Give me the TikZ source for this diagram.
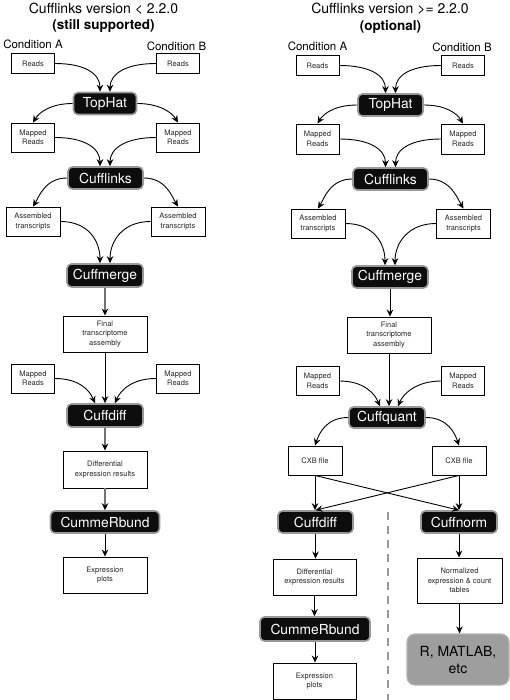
\documentclass[tikz,border=0pt]{standalone}
\usepackage{fontspec}
\setmainfont{TeX Gyre Heros}
\usetikzlibrary{arrows.meta,calc}
\begin{document}
\begin{tikzpicture}[x=1pt,y=-1pt,
  sz/.style 2 args={minimum width=#1pt, minimum height=#2pt},
  wbox/.style={draw=black, line width=0.9pt, fill=white, inner sep=0pt, align=center,
    font=\fontsize{7.5}{9.5}\selectfont, text=black!85},
  bbox/.style={draw=black!40, line width=1.6pt, fill=black!95, rounded corners=4.5pt,
    inner sep=0pt, text=white, font=\fontsize{13.8}{16}\selectfont},
  gbox/.style={draw=black!30, line width=1.2pt, fill=black!38, rounded corners=8pt,
    inner sep=0pt, align=center, text=black, font=\fontsize{14}{17}\selectfont},
  arr/.style={line width=0.9pt, -{Stealth[length=7pt,width=6.5pt]}},
  garr/.style={line width=1.1pt, draw=black!55, -{Stealth[length=7pt,width=6.5pt,color=black]}},
  cond/.style={font=\fontsize{11.5}{13}\selectfont},
  ttl/.style={font=\fontsize{14}{16}\selectfont},
  ttlb/.style={font=\fontsize{13.5}{16}\selectfont\bfseries},
  sep/.style={draw=black!40, line width=1.3pt, dash pattern=on 8pt off 6pt},
]
\useasboundingbox (0,0) rectangle (510,700);

% ---------------- titles ----------------
\node[ttl]  (tl1) at (103.5,9)  {Cufflinks version < 2.2.0};
\node[ttlb] (tl2) at (103.5,26) {(still supported)};
\node[ttl]  (tr1) at (390,9)    {Cufflinks version >= 2.2.0};
\node[ttlb] (tr2) at (390.5,27) {(optional)};

% ---------------- left column ----------------
\node[cond] (cAL) at (33,44.5)   {Condition A};
\node[cond] (cBL) at (176.5,46)  {Condition B};
\node[wbox, sz={43}{20}] (rAL) at (33,63.5)  {Reads};
\node[wbox, sz={43}{20}] (rBL) at (178,63.5) {Reads};
\node[bbox, sz={63}{22}] (thL) at (105,103.5) {TopHat};
\node[wbox, sz={43}{29}] (mAL) at (33,137.5)  {Mapped\\Reads};
\node[wbox, sz={43}{29}] (mBL) at (178,137.5) {Mapped\\Reads};
\node[bbox, sz={75}{22}] (clL) at (105.5,178) {Cufflinks};
\node[wbox, sz={54}{29}] (aAL) at (33,221.5)  {Assembled\\transcripts};
\node[wbox, sz={54}{29}] (aBL) at (178,221.5) {Assembled\\transcripts};
\node[bbox, sz={76}{23}] (cmL) at (105,275.5) {Cuffmerge};
\node[wbox, sz={84}{36}] (fL)  at (105,334)   {Final\\transcriptome\\assembly};
\node[wbox, sz={43}{29}] (m2AL) at (33,378.5)  {Mapped\\Reads};
\node[wbox, sz={43}{29}] (m2BL) at (178,378.5) {Mapped\\Reads};
\node[bbox, sz={76}{23}] (cdL) at (105,415.5) {Cuffdiff};
\node[wbox, sz={84}{37}] (dL)  at (105,469.5) {Differential\\expression results};
\node[bbox, sz={109}{22}] (crL) at (105,522)  {CummeRbund};
\node[wbox, sz={84}{36}] (eL)  at (105,575)   {Expression\\plots};

\draw[arr] (rAL.east) .. controls +(30,0) and +(0,-18) .. ($(thL.north)+(-5,0)$);
\draw[arr] (rBL.west) .. controls +(-30,0) and +(0,-18) .. ($(thL.north)+(5,0)$);
\draw[arr] (thL.west) .. controls +(-22,0) and +(6,-10) .. (mAL.north);
\draw[arr] (thL.east) .. controls +(22,0) and +(-6,-10) .. (mBL.north);
\draw[arr] (mAL.east) .. controls +(30,0) and +(0,-18) .. ($(clL.north)+(-5.5,0)$);
\draw[arr] (mBL.west) .. controls +(-30,0) and +(0,-18) .. ($(clL.north)+(4.5,0)$);
\draw[arr] (clL.west) .. controls +(-22,0) and +(6,-10) .. (aAL.north);
\draw[arr] (clL.east) .. controls +(22,0) and +(-6,-10) .. (aBL.north);
\draw[arr] (aAL.east) .. controls +(28,0) and +(0,-22) .. ($(cmL.north)+(-5,0)$);
\draw[arr] (aBL.west) .. controls +(-28,0) and +(0,-22) .. ($(cmL.north)+(5,0)$);
\draw[garr] (cmL.south) -- (fL.north);
\draw[arr] (fL.south) -- (cdL.north);
\draw[arr] (m2AL.east) .. controls +(25,0) and +(-5,-12) .. ($(cdL.north)+(-10,0)$);
\draw[arr] (m2BL.west) .. controls +(-25,0) and +(5,-12) .. ($(cdL.north)+(10,0)$);
\draw[garr] (cdL.south) -- (dL.north);
\draw[garr] (dL.south) -- (crL.north);
\draw[arr] (crL.south) -- (eL.north);

% ---------------- right column ----------------
\node[cond] (cAR) at (317.5,46) {Condition A};
\node[cond] (cBR) at (462,47)   {Condition B};
\node[wbox, sz={43}{20}] (rAR) at (317.5,65.5) {Reads};
\node[wbox, sz={43}{20}] (rBR) at (463,65.5)   {Reads};
\node[bbox, sz={65}{22}] (thR) at (390.5,105)  {TopHat};
\node[wbox, sz={43}{30}] (mAR) at (317.5,139)  {Mapped\\Reads};
\node[wbox, sz={43}{30}] (mBR) at (463,139)    {Mapped\\Reads};
\node[bbox, sz={75}{22}] (clR) at (390.5,179)  {Cufflinks};
\node[wbox, sz={54}{29}] (aAR) at (318,223.5)  {Assembled\\transcripts};
\node[wbox, sz={54}{29}] (aBR) at (463.5,223.5) {Assembled\\transcripts};
\node[bbox, sz={76}{22}] (cmR) at (390,277)    {Cuffmerge};
\node[wbox, sz={84}{36}] (fR)  at (389,335)    {Final\\transcriptome\\assembly};
\node[wbox, sz={43}{29}] (m2AR) at (317.5,381) {Mapped\\Reads};
\node[wbox, sz={43}{29}] (m2BR) at (463,381)   {Mapped\\Reads};
\node[bbox, sz={76}{21}] (cq)  at (387,417.5)  {Cuffquant};
\node[wbox, sz={54}{29}] (xA)  at (315,460.5)  {CXB file};
\node[wbox, sz={54}{29}] (xB)  at (459,460.5)  {CXB file};
\node[bbox, sz={75}{22}] (cdR) at (315.5,522)  {Cuffdiff};
\node[bbox, sz={76}{22}] (cn)  at (459,522)    {Cuffnorm};
\node[wbox, sz={83}{36}] (dR)  at (314.5,577)  {Differential\\expression results};
\node[wbox, sz={85}{45}] (nR)  at (459.5,580.5) {Normalized\\expression \& count\\tables};
\node[bbox, sz={110}{24}] (crR) at (315,629)   {CummeRbund};
\node[wbox, sz={83}{36}] (eR)  at (314.5,681)  {Expression\\plots};
\node[gbox, sz={102}{51}] (rm) at (458,659.5)  {R, MATLAB,\\etc};

\coordinate (sepT) at (388,512);
\coordinate (sepB) at (388,700);
\draw[sep] (sepT) -- (sepB);

\draw[arr] (rAR.east) .. controls +(30,0) and +(0,-18) .. ($(thR.north)+(-5,0)$);
\draw[arr] (rBR.west) .. controls +(-30,0) and +(0,-18) .. ($(thR.north)+(5,0)$);
\draw[arr] (thR.west) .. controls +(-22,0) and +(6,-10) .. (mAR.north);
\draw[arr] (thR.east) .. controls +(22,0) and +(-6,-10) .. (mBR.north);
\draw[arr] (mAR.east) .. controls +(30,0) and +(0,-18) .. ($(clR.north)+(-5,0)$);
\draw[arr] (mBR.west) .. controls +(-30,0) and +(0,-18) .. ($(clR.north)+(5,0)$);
\draw[arr] (clR.west) .. controls +(-22,0) and +(6,-10) .. (aAR.north);
\draw[arr] (clR.east) .. controls +(22,0) and +(-6,-10) .. (aBR.north);
\draw[arr] (aAR.east) .. controls +(28,0) and +(0,-22) .. ($(cmR.north)+(-5,0)$);
\draw[arr] (aBR.west) .. controls +(-28,0) and +(0,-22) .. ($(cmR.north)+(5,0)$);
\draw[arr] (cmR.south) -- (cmR.south |- fR.north);
\draw[arr] (fR.south) -- (fR.south |- cq.north);
\draw[arr] (m2AR.east) .. controls +(25,0) and +(-5,-12) .. ($(cq.north)+(-7,0)$);
\draw[arr] (m2BR.west) .. controls +(-25,0) and +(5,-12) .. ($(cq.north)+(11,0)$);
\draw[arr] (cq.west) .. controls +(-22,0) and +(4,-12) .. (xA.north);
\draw[arr] (cq.east) .. controls +(22,0) and +(-4,-12) .. (xB.north);
\draw[arr] (xA.south) -- (xA.south |- cdR.north);
\draw[arr] (xB.south) -- (xB.south |- cn.north);
\draw[arr] (xA.south) -- (cn.north);
\draw[arr] (xB.south) -- (cdR.north);
\draw[arr] (cdR.south) -- (cdR.south |- dR.north);
\draw[arr] (dR.south) -- (dR.south |- crR.north);
\draw[arr] (crR.south) -- (crR.south |- eR.north);
\draw[arr] (cn.south) -- (cn.south |- nR.north);
\draw[arr] (nR.south) -- (nR.south |- rm.north);
\end{tikzpicture}
\end{document}
